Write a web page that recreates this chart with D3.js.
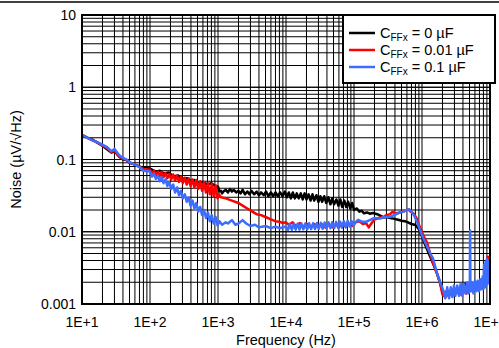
<!DOCTYPE html>
<html>
<head>
<meta charset="utf-8">
<script src="https://cdn.jsdelivr.net/npm/d3@7"></script>
<style>
  body { margin: 0; background: #fff; }
  svg { display: block; font-family: "Liberation Sans", Arial, sans-serif; }
</style>
</head>
<body>
<div id="chart"></div>
<script>
// tick labels
var freqTicks = [1e1, 1e2, 1e3, 1e4, 1e5, 1e6, 1e7];
var freqLabels = ["1E+1", "1E+2", "1E+3", "1E+4", "1E+5", "1E+6", "1E+7"];
var noiseTicks = [10, 1, 0.1, 0.01, 0.001];
var noiseLabels = ["10", "1", "0.1", "0.01", "0.001"];

var seriesNames = ["0 \u00b5F", "0.01 \u00b5F", "0.1 \u00b5F"];

// [frequency Hz, noise uV/rtHz]
var cff0 = [
  [10, 0.22], [12, 0.2], [14, 0.19], [17, 0.17], [20, 0.155], [23, 0.14], [27, 0.125], [30, 0.13],
  [35, 0.11], [40, 0.1], [45, 0.098], [50, 0.09], [60, 0.085], [70, 0.08], [80, 0.076],
  [100, 0.075], [120, 0.068], [140, 0.07], [160, 0.064], [190, 0.066], [220, 0.058], [260, 0.06],
  [300, 0.054], [350, 0.055], [400, 0.05], [450, 0.052], [500, 0.047], [600, 0.049], [700, 0.045],
  [800, 0.047], [900, 0.043], [1000, 0.042], [1050, 0.036], [1100, 0.037], [1150, 0.034], [1200, 0.036],
  [1300, 0.038], [1400, 0.035], [1500, 0.039], [1600, 0.036], [1700, 0.038], [1850, 0.035], [2000, 0.037],
  [2150, 0.034], [2300, 0.038], [2500, 0.033], [2700, 0.036], [2900, 0.033], [3100, 0.037], [3400, 0.033],
  [3700, 0.036], [4000, 0.032], [4300, 0.035], [4700, 0.032], [5100, 0.036], [5500, 0.031], [6000, 0.035],
  [6500, 0.031], [7000, 0.035], [7600, 0.031], [8200, 0.035], [8900, 0.031], [9600, 0.036], [10300, 0.03],
  [11000, 0.035], [11800, 0.029], [12600, 0.035], [13500, 0.029], [14400, 0.034], [15400, 0.029],
  [16500, 0.034], [17600, 0.028], [18800, 0.034], [20000, 0.028], [21500, 0.033], [23000, 0.027],
  [24500, 0.033], [26000, 0.027], [28000, 0.032], [30000, 0.026], [32000, 0.031], [34000, 0.026],
  [36500, 0.031], [39000, 0.025], [42000, 0.03], [45000, 0.024], [48000, 0.029], [51000, 0.024],
  [55000, 0.028], [59000, 0.023], [63000, 0.028], [67000, 0.022], [72000, 0.027], [77000, 0.022],
  [82000, 0.026], [88000, 0.021], [94000, 0.025], [100000, 0.02],
  [110000, 0.021], [120000, 0.019], [130000, 0.0195], [140000, 0.018], [155000, 0.0185],
  [170000, 0.0178], [190000, 0.0182], [220000, 0.0175], [250000, 0.0165], [270000, 0.0158],
  [300000, 0.016], [340000, 0.0155], [380000, 0.0152], [430000, 0.0148], [500000, 0.0142],
  [560000, 0.014], [620000, 0.0135], [700000, 0.0128], [800000, 0.0124], [900000, 0.0108],
  [1000000, 0.0085], [1100000, 0.0068], [1200000, 0.0056], [1350000, 0.0043], [1500000, 0.0034],
  [1650000, 0.0027], [1800000, 0.0021], [2000000, 0.0015], [2100000, 0.00135], [2300000, 0.0015],
  [2600000, 0.0014], [3000000, 0.0016], [3500000, 0.0015], [4000000, 0.0017], [4300000, 0.0019],
  [4500000, 0.0016], [5000000, 0.0018], [6000000, 0.0017], [7000000, 0.0019], [8000000, 0.0018],
  [9000000, 0.0024], [10000000, 0.0022]
];

var cff001 = [
  [10, 0.22], [12, 0.2], [14, 0.185], [17, 0.172], [20, 0.155], [23, 0.145], [27, 0.128], [30, 0.132],
  [35, 0.112], [40, 0.102], [45, 0.098], [50, 0.091], [60, 0.086], [70, 0.079], [80, 0.074],
  [100, 0.072], [107, 0.063], [114, 0.07], [122, 0.061], [130, 0.068], [139, 0.059], [148, 0.067],
  [158, 0.057], [169, 0.065], [180, 0.055], [192, 0.063], [205, 0.053], [219, 0.062], [234, 0.051],
  [250, 0.06], [267, 0.049], [285, 0.058], [304, 0.047], [325, 0.056], [347, 0.045], [370, 0.055],
  [395, 0.043], [422, 0.053], [450, 0.041], [480, 0.052], [512, 0.039], [547, 0.05], [584, 0.037],
  [623, 0.049], [665, 0.035], [710, 0.047], [758, 0.033], [809, 0.046], [864, 0.031], [922, 0.044],
  [984, 0.029], [1030, 0.033], [1100, 0.03], [1300, 0.029],
  [1600, 0.027], [2000, 0.025], [2300, 0.023], [2700, 0.021], [3200, 0.019], [3700, 0.0175],
  [4300, 0.017], [5000, 0.016], [6000, 0.0148], [7000, 0.014], [8000, 0.0138], [9000, 0.0132],
  [10000, 0.0135], [11000, 0.0125], [12500, 0.0135], [14000, 0.012], [16000, 0.0132], [18000, 0.0117],
  [20000, 0.013], [23000, 0.0116], [26000, 0.0128], [30000, 0.0115], [34000, 0.0127], [38000, 0.0114],
  [43000, 0.0126], [48000, 0.0115], [54000, 0.0128], [60000, 0.0116], [67000, 0.013], [75000, 0.0118],
  [85000, 0.0128], [95000, 0.012], [105000, 0.0135], [120000, 0.014], [135000, 0.0128], [150000, 0.0132],
  [165000, 0.0115], [180000, 0.013], [200000, 0.0148], [230000, 0.0155], [270000, 0.016],
  [300000, 0.017], [340000, 0.0175], [370000, 0.019], [400000, 0.0178], [450000, 0.0183],
  [500000, 0.0188], [550000, 0.0192], [620000, 0.0205], [680000, 0.019], [750000, 0.018],
  [830000, 0.0155], [930000, 0.0116], [1050000, 0.0088], [1190000, 0.007], [1300000, 0.0052],
  [1450000, 0.0037], [1650000, 0.0027], [1840000, 0.00195], [2000000, 0.00135], [2200000, 0.00125],
  [2500000, 0.0014], [2800000, 0.0013], [3200000, 0.0015], [3600000, 0.00135], [4000000, 0.0016],
  [4500000, 0.0014], [5000000, 0.0017], [5500000, 0.0015], [6000000, 0.0017], [7000000, 0.0016],
  [8000000, 0.0018], [8500000, 0.0026], [9000000, 0.0035], [9300000, 0.0045], [9600000, 0.0028],
  [10000000, 0.0022]
];

var cff01 = [
  [10, 0.22], [12, 0.2], [14, 0.185], [17, 0.172], [20, 0.16], [23, 0.15], [27, 0.13], [30, 0.14],
  [35, 0.115], [40, 0.105], [45, 0.1], [50, 0.092], [60, 0.085], [70, 0.078], [80, 0.07],
  [100, 0.068], [107, 0.058], [114, 0.064], [122, 0.054], [130, 0.06], [139, 0.05], [148, 0.057],
  [158, 0.047], [169, 0.053], [180, 0.043], [192, 0.049], [205, 0.039], [219, 0.045], [234, 0.035],
  [250, 0.041], [267, 0.032], [285, 0.037], [304, 0.029], [325, 0.033], [347, 0.026], [370, 0.03],
  [395, 0.023], [422, 0.027], [450, 0.021], [480, 0.025], [512, 0.019], [547, 0.022], [584, 0.017],
  [623, 0.02], [665, 0.0155], [710, 0.0185], [758, 0.014], [809, 0.017], [864, 0.013], [922, 0.016],
  [984, 0.0122], [1050, 0.014], [1150, 0.0125], [1300, 0.0135],
  [1400, 0.013], [1600, 0.0145], [1800, 0.0125], [2000, 0.013], [2300, 0.0145],
  [2600, 0.013], [3000, 0.012], [3500, 0.0125], [4000, 0.0115], [5000, 0.012], [6000, 0.0112],
  [7000, 0.0118], [8000, 0.0112], [10000, 0.0118], [10700, 0.0106], [11400, 0.0128], [12200, 0.0106],
  [13000, 0.0128], [13900, 0.0107], [14800, 0.0129], [15800, 0.0107], [16900, 0.013], [18000, 0.0108],
  [19200, 0.013], [20500, 0.0108], [21900, 0.0131], [23400, 0.0109], [25000, 0.0131], [26700, 0.0109],
  [28500, 0.0132], [30400, 0.011], [32500, 0.0133], [34700, 0.011], [37000, 0.0134], [39500, 0.0111],
  [42200, 0.0135], [45000, 0.0112], [48000, 0.0136], [51200, 0.0112], [54700, 0.0137], [58400, 0.0113],
  [62300, 0.0138], [66500, 0.0114], [71000, 0.014], [75800, 0.0115], [80900, 0.0141], [86400, 0.0118],
  [92200, 0.014], [98400, 0.0122], [105000, 0.0135], [115000, 0.0146],
  [130000, 0.0138], [150000, 0.0137], [170000, 0.0145], [200000, 0.0155], [240000, 0.0152],
  [280000, 0.016], [340000, 0.016], [400000, 0.0172], [460000, 0.0182], [530000, 0.019],
  [600000, 0.02], [650000, 0.0205], [700000, 0.019], [760000, 0.017], [850000, 0.0135],
  [930000, 0.0106], [1050000, 0.008], [1190000, 0.0062], [1350000, 0.0048], [1450000, 0.0043],
  [1660000, 0.0027], [1850000, 0.002], [2050000, 0.00156], [2200000, 0.0012], [2350000, 0.0017],
  [2500000, 0.0012], [2650000, 0.0017], [2800000, 0.00125], [2950000, 0.0018], [3100000, 0.0013],
  [3300000, 0.0018], [3500000, 0.0013], [3700000, 0.0019], [3900000, 0.0013], [4100000, 0.0019],
  [4350000, 0.0014], [4600000, 0.002], [4850000, 0.0014], [5050000, 0.0019], [5100000, 0.0104],
  [5150000, 0.0015], [5400000, 0.002], [5700000, 0.0014], [6000000, 0.0021], [6300000, 0.0015],
  [6600000, 0.0021], [6900000, 0.0015], [7200000, 0.0022], [7500000, 0.0016], [7800000, 0.0024],
  [8000000, 0.0016], [8200000, 0.0035], [8400000, 0.0017], [8600000, 0.0038], [8800000, 0.0018],
  [9000000, 0.0042], [9200000, 0.0019], [9400000, 0.004], [9600000, 0.002], [9800000, 0.0036],
  [10000000, 0.0025]
];

var seriesData = [cff0, cff001, cff01];
var seriesColors = ["#000000", "#ff0000", "#3d6dff"];

var width = 499,
    height = 348,
    plot = { left: 82, right: 490, top: 15, bottom: 304 };

var svg = d3.select("#chart").append("svg")
    .attr("width", width)
    .attr("height", height);

var x = d3.scaleLog().domain([1e1, 1e7]).range([plot.left, plot.right]);
var y = d3.scaleLog().domain([1e-3, 1e1]).range([plot.bottom, plot.top]);

// rule across the top of the page
svg.append("line")
    .attr("x1", 0).attr("x2", width)
    .attr("y1", 2).attr("y2", 2)
    .attr("stroke", "#000").attr("stroke-width", 1.5);

// grid: every 1..9 in each decade
var xGrid = [];
for (var e = 1; e < 7; e++) for (var k = 2; k <= 9; k++) xGrid.push(k * Math.pow(10, e));
var yGrid = [];
for (var e2 = -3; e2 < 1; e2++) for (var k2 = 1; k2 <= 10; k2++) yGrid.push(k2 * Math.pow(10, e2));

var grid = svg.append("g").attr("class", "grid");
grid.selectAll(".vx").data(xGrid.concat(freqTicks)).enter().append("line")
    .attr("x1", function (d) { return x(d); })
    .attr("x2", function (d) { return x(d); })
    .attr("y1", plot.top).attr("y2", plot.bottom)
    .attr("stroke", "#000").attr("stroke-width", 1);
grid.selectAll(".hy").data(yGrid).enter().append("line")
    .attr("y1", function (d) { return y(d); })
    .attr("y2", function (d) { return y(d); })
    .attr("x1", plot.left).attr("x2", plot.right)
    .attr("stroke", "#000").attr("stroke-width", 1);

svg.append("clipPath").attr("id", "clip")
  .append("rect")
    .attr("x", plot.left).attr("y", plot.top)
    .attr("width", plot.right - plot.left).attr("height", plot.bottom - plot.top);

var line = d3.line()
    .x(function (d) { return x(d[0]); })
    .y(function (d) { return y(d[1]); });

svg.append("g").attr("clip-path", "url(#clip)")
  .selectAll("path").data(seriesData).enter().append("path")
    .attr("d", line)
    .attr("fill", "none")
    .attr("stroke", function (d, i) { return seriesColors[i]; })
    .attr("stroke-width", 2.5)
    .attr("stroke-linejoin", "round");

// plot frame
svg.append("rect")
    .attr("x", plot.left).attr("y", plot.top)
    .attr("width", plot.right - plot.left).attr("height", plot.bottom - plot.top)
    .attr("fill", "none").attr("stroke", "#000").attr("stroke-width", 2);

// tick labels
svg.selectAll(".xl").data(freqTicks).enter().append("text")
    .attr("x", function (d) { return x(d); })
    .attr("y", plot.bottom + 23)
    .attr("text-anchor", "middle")
    .style("font-size", "14px")
    .text(function (d, i) { return freqLabels[i]; });

svg.selectAll(".yl").data(noiseTicks).enter().append("text")
    .attr("x", plot.left - 6)
    .attr("y", function (d) { return y(d) + 5; })
    .attr("text-anchor", "end")
    .style("font-size", "14px")
    .text(function (d, i) { return noiseLabels[i]; });

svg.append("text")
    .attr("x", (plot.left + plot.right) / 2)
    .attr("y", 345)
    .attr("text-anchor", "middle")
    .style("font-size", "14.5px")
    .text("Frequency (Hz)");

svg.append("text")
    .attr("transform", "translate(21," + ((plot.top + plot.bottom) / 2) + ") rotate(-90)")
    .attr("text-anchor", "middle")
    .style("font-size", "14.5px")
    .text("Noise (\u00b5V/\u221aHz)");

// legend
var lg = svg.append("g").attr("class", "legend");
lg.append("rect")
    .attr("x", 343).attr("y", 15)
    .attr("width", 152).attr("height", 68)
    .attr("fill", "#fff").attr("stroke", "#000").attr("stroke-width", 2);

var items = lg.selectAll(".item").data(seriesNames).enter().append("g")
    .attr("transform", function (d, i) { return "translate(0," + (33 + i * 17) + ")"; });
items.append("line")
    .attr("x1", 349).attr("x2", 375)
    .attr("stroke", function (d, i) { return seriesColors[i]; })
    .attr("stroke-width", 2.5);
var lt = items.append("text")
    .attr("x", 380).attr("y", 5)
    .style("font-size", "14.5px");
lt.append("tspan").text("C");
lt.append("tspan").attr("dy", 3).style("font-size", "10px").text("FFx");
lt.append("tspan").attr("dy", -3).text(function (d) { return " = " + d; });
</script>
</body>
</html>
